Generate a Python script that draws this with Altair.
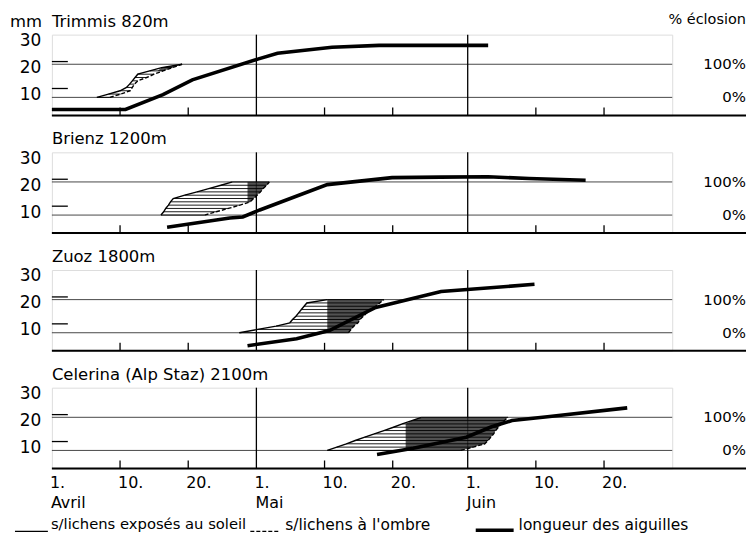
import altair as alt
import pandas as pd

# ---------------- data (days counted from 1 April = 0) ----------------
panel_titles = ["Trimmis 820m", "Brienz 1200m", "Zuoz 1800m", "Celerina (Alp Staz) 2100m"]

# needle length (mm)
trimmis_needle_day = [0, 10.8, 16.3, 20.6, 30.2, 33.1, 41.1, 48, 64]
trimmis_needle_mm = [2.2, 2.2, 7.7, 13.2, 20.9, 23.1, 25.3, 26, 26]
brienz_needle_day = [16.9, 26.1, 28, 30.5, 40.4, 49.9, 57, 64, 70, 78.3]
brienz_needle_mm = [2.2, 5.6, 6.0, 8.6, 18, 20.6, 20.8, 20.9, 20.3, 19.6]
zuoz_needle_day = [28.7, 35.9, 40.7, 47.5, 57.1, 70.8]
zuoz_needle_mm = [1.9, 4.5, 7.5, 16.1, 22, 24.7]
celerina_needle_day = [47.7, 53, 60.8, 64.5, 67.5, 72.7, 84.4]
celerina_needle_mm = [5.2, 7.5, 11.6, 15.5, 17.8, 19.2, 22.5]

# eclosion (% levels) : day reached on lichens in sun / in shade
pct_levels = [0, 10, 20, 30, 40, 50, 60, 70, 80, 90, 100]
trimmis_sun = [6.6, 8.3, 10.0, 10.95, 11.4, 11.8, 12.2, 12.6, 14.35, 16.1, 19.1]
trimmis_shade = [8.5, 10.1, 11.5, 11.8, 12.1, 12.6, 13.9, 15.0, 16.3, 17.7, 19.1]
brienz_sun = [16.0, 16.4, 16.7, 17.1, 17.4, 17.8, 19.5, 21.3, 23.0, 24.8, 26.5]
brienz_shade = [22.4, 24.1, 25.9, 27.6, 29.1, 29.6, 30.1, 30.6, 31.0, 31.5, 31.9]
zuoz_sun = [27.5, 30.2, 32.9, 34.9, 35.3, 35.8, 36.2, 36.6, 37.0, 37.4, 40.4]
zuoz_shade = [43.5, 43.9, 44.3, 44.9, 45.2, 45.7, 46.2, 46.8, 47.5, 48.1, 48.7]
celerina_sun = [40.4, 41.8, 43.2, 44.5, 45.9, 47.3, 48.7, 50.1, 51.4, 52.8, 54.2]
celerina_shade = [60.0, 61.8, 63.5, 64.0, 64.4, 64.8, 65.1, 65.5, 65.9, 66.4, 66.9]
cross_from_day = [15.5, 28.7, 40.4, 51.9]

# eclosion scale placed on the mm axis
pct_mm = [6.7, 19.0]          # 0 %, 100 %
pct_labels = ["0%", "100%"]

# axes
y_label_values = [10, 20, 30]
y_inner_ticks = [10, 20]
month_days = [30, 61]
minor_tick_days = [10, 20, 40, 50, 71, 81]
x_label_days = [0, 10, 20, 30, 40, 50, 61, 71, 81]
x_labels = ["1.", "10.", "20.", "1.", "10.", "20.", "1.", "10.", "20."]
month_label_days = [0, 30, 61]
month_labels = ["Avril", "Mai", "Juin"]
legend_texts = ["s/lichens exposés au soleil", "s/lichens à l'ombre", "longueur des aiguilles"]

# ---------------- chart ----------------
W, H = 622, 81
FONT = "DejaVu Sans"
X_SCALE = alt.Scale(domain=[0, 91], nice=False, zero=False)
Y_SCALE = alt.Scale(domain=[0, 30], nice=False, zero=False)
Y_AXIS = alt.Axis(values=y_label_values, ticks=False, domain=False, grid=False,
                  labelPadding=11, labelFontSize=17, labelOffset=6, title=None,
                  labelColor="black", labelFont=FONT)


def X(f):
    return alt.X(f, scale=X_SCALE, axis=None)


def Y(f):
    return alt.Y(f, scale=Y_SCALE, axis=Y_AXIS)


def text_layer(txt, x, y, size, align="left"):
    return alt.Chart(pd.DataFrame({"t": [txt]})).mark_text(
        align=align, baseline="middle", fontSize=size, font=FONT, color="black"
    ).encode(x=alt.value(x), y=alt.value(y), text="t:N")


def panel(i, needle_day, needle_mm, sun, shade):
    lo, hi = pct_mm
    lev_mm = [lo + p / 100 * (hi - lo) for p in pct_levels]
    ecl = pd.DataFrame({"pct": pct_levels, "mm": lev_mm, "sun": sun, "shade": shade})
    cut = cross_from_day[i]
    cr = ecl[ecl["shade"] > cut].copy()
    cr["start"] = cr["sun"].clip(lower=cut)
    needle = pd.DataFrame({"day": needle_day, "mm": needle_mm})
    grid = pd.DataFrame({"mm": pct_mm, "label": pct_labels})

    layers = [
        alt.Chart(grid).mark_rule(color="#333", strokeWidth=0.9).encode(
            y=Y("mm:Q"), x=alt.value(0), x2=alt.value(W)),
        alt.Chart(pd.DataFrame({"day": month_days})).mark_rule(color="black", strokeWidth=1.3).encode(
            x=X("day:Q"), y=alt.value(0), y2=alt.value(H)),
        alt.Chart(pd.DataFrame({"day": minor_tick_days})).mark_rule(color="black", strokeWidth=1.3).encode(
            x=X("day:Q"), y=alt.value(H), y2=alt.value(H - 8)),
        alt.Chart(pd.DataFrame({"mm": y_inner_ticks})).mark_rule(color="black", strokeWidth=1.3).encode(
            y=Y("mm:Q"), x=alt.value(0), x2=alt.value(16)),
        alt.Chart(cr).mark_area(orient="horizontal", color="#333333", opacity=0.85).encode(
            x=X("start:Q"), x2="shade:Q", y=Y("mm:Q")),
        alt.Chart(ecl).mark_rule(color="black", strokeWidth=0.9).encode(
            x=X("sun:Q"), x2="shade:Q", y=Y("mm:Q")),
        alt.Chart(ecl).mark_line(color="black", strokeWidth=1.4).encode(
            x=X("sun:Q"), y=Y("mm:Q"), order="pct:Q"),
        alt.Chart(ecl).mark_line(color="black", strokeWidth=1.4, strokeDash=[4, 2]).encode(
            x=X("shade:Q"), y=Y("mm:Q"), order="pct:Q"),
        alt.Chart(needle).mark_line(color="black", strokeWidth=3.6).encode(
            x=X("day:Q"), y=Y("mm:Q")),
        alt.Chart(pd.DataFrame({"k": [0]})).mark_rule(color="black", strokeWidth=2).encode(
            x=alt.value(0), x2=alt.value(696), y=alt.value(H)),
        alt.Chart(grid).mark_text(align="right", baseline="middle", fontSize=15, font=FONT,
                                  color="black").encode(
            x=alt.value(696), y=Y("mm:Q"), text="label:N"),
        text_layer(panel_titles[i], 0, -13, 16.5),
    ]
    if i == 0:
        layers.append(text_layer("mm", -42, -13, 16.5))
        layers.append(text_layer("% éclosion", 696, -15, 14.5, align="right"))
    if i == 3:
        xl = pd.DataFrame({"day": x_label_days, "label": x_labels})
        ml = pd.DataFrame({"day": month_label_days, "label": month_labels})
        layers.append(alt.Chart(xl).mark_text(align="left", baseline="middle", fontSize=16, font=FONT,
                                              dx=-2, color="black").encode(
            x=X("day:Q"), y=alt.value(H + 15), text="label:N"))
        layers.append(alt.Chart(ml).mark_text(align="left", baseline="middle", fontSize=16, font=FONT,
                                              dx=-1, color="black").encode(
            x=X("day:Q"), y=alt.value(H + 35), text="label:N"))
        k = pd.DataFrame({"k": [0]})
        layers.append(alt.Chart(k).mark_rule(color="black", strokeWidth=1.2).encode(
            x=alt.value(-37), x2=alt.value(-4), y=alt.value(H + 63)))
        layers.append(alt.Chart(k).mark_rule(color="black", strokeWidth=1.2, strokeDash=[4, 2]).encode(
            x=alt.value(199), x2=alt.value(229), y=alt.value(H + 63)))
        layers.append(alt.Chart(k).mark_rule(color="black", strokeWidth=3.6).encode(
            x=alt.value(425), x2=alt.value(463), y=alt.value(H + 62)))
        layers.append(text_layer(legend_texts[0], -1, H + 57, 14.8))
        layers.append(text_layer(legend_texts[1], 234, H + 57, 15.5))
        layers.append(text_layer(legend_texts[2], 468, H + 57, 15.5))
    return alt.layer(*layers).properties(width=W, height=H)


panels = [
    panel(0, trimmis_needle_day, trimmis_needle_mm, trimmis_sun, trimmis_shade),
    panel(1, brienz_needle_day, brienz_needle_mm, brienz_sun, brienz_shade),
    panel(2, zuoz_needle_day, zuoz_needle_mm, zuoz_sun, zuoz_shade),
    panel(3, celerina_needle_day, celerina_needle_mm, celerina_sun, celerina_shade),
]

chart = alt.vconcat(*panels, spacing=37, bounds="flush").properties(
    padding={"left": 1, "top": 2, "right": 0, "bottom": 0}
).configure_view(stroke="black", strokeWidth=1.2).configure(background="white")

chart.save("out.html", embed_options={"renderer": "svg", "actions": False})
